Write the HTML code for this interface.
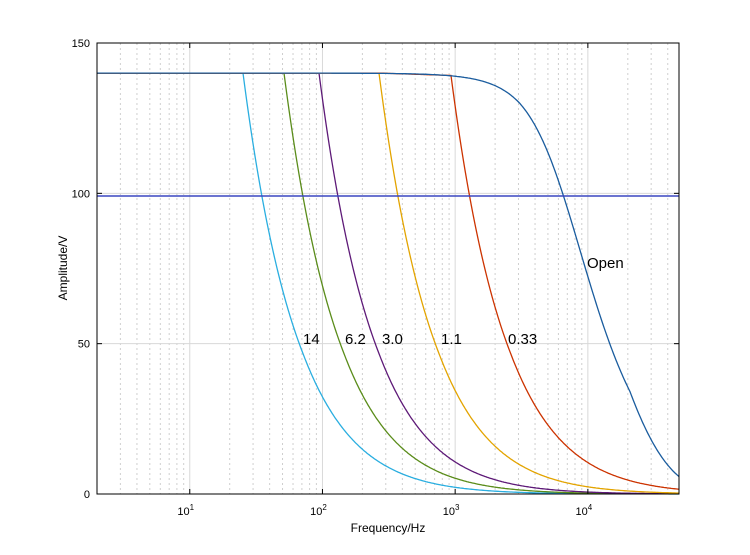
<!DOCTYPE html><html><head><style>body{margin:0;background:#fff}svg{display:block;font-family:"Liberation Sans",sans-serif}</style></head><body>
<svg id="s" width="750" height="555" xmlns="http://www.w3.org/2000/svg"></svg>
<script>
const s=document.getElementById('s');let h='';
const X0=97,X1=679,Y0=43,Y1=494,D=132.7;
const fx=f=>X0+(Math.log10(f)-0.301)*D;
const vy=v=>Y1-v*(Y1-Y0)/150;
for(let e=0;e<5;e++)for(let m=1;m<10;m++){const f=m*Math.pow(10,e);const x=fx(f);if(x<=X0+0.5||x>=X1)continue;
 if(m==1)h+=`<line x1="${x}" y1="${Y0}" x2="${x}" y2="${Y1}" stroke="#d8d8d8" stroke-width="1"/>`;
 else h+=`<line x1="${x}" y1="${Y0}" x2="${x}" y2="${Y1}" stroke="#cfcfcf" stroke-width="1" stroke-dasharray="2,3"/>`;}
for(const v of [50,100])h+=`<line x1="${X0}" y1="${vy(v)}" x2="${X1}" y2="${vy(v)}" stroke="#d8d8d8"/>`;
function A(dx){if(dx<=0)return 140;let k=0.0183+Math.max(0,dx-60)*0.000008;return 140*Math.exp(-k*dx);}
const cs=[[243,'#2aaee0',140],[284,'#5a8c1a',140],[319,'#5e1a78',140],[379,'#e3a400',140],[451,'#cc3300',139.2]];
for(const [xb,c,top] of cs){let p='';for(let x=X0;x<=X1;x+=1){let v=x<xb?(x<379?140:140-(x-379)/(451-379)*0.8):A(x-xb)*top/140;p+=(p?'L':'M')+x+','+vy(v).toFixed(1);}h+=`<path d="${p}" fill="none" stroke="${c}" stroke-width="1.3"/>`;}
let p='';for(let x=X0;x<=X1;x++){const sc=24+Math.max(0,520-x)*0.03-Math.max(0,x-630)*0.12;const z=(x-563.6)/sc;const v=140/Math.sqrt(1+Math.exp(z));p+=(p?'L':'M')+x+','+vy(v).toFixed(1);}
h+=`<path d="${p}" fill="none" stroke="#1a5c9e" stroke-width="1.3"/>`;
h+=`<line x1="${X0}" y1="196" x2="${X1}" y2="196" stroke="#3a46c0" stroke-width="1.6"/>`;
h+=`<rect x="${X0}" y="${Y0}" width="${X1-X0}" height="${Y1-Y0}" fill="none" stroke="#000" stroke-width="1"/>`;
for(const v of [0,50,100,150]){h+=`<text x="90" y="${vy(v)+4}" font-size="11" text-anchor="end">${v}</text>`;h+=`<line x1="${X0}" y1="${vy(v)}" x2="${X0+5}" y2="${vy(v)}" stroke="#000"/><line x1="${X1}" y1="${vy(v)}" x2="${X1-5}" y2="${vy(v)}" stroke="#000"/>`;}
for(let e=1;e<5;e++){const x=fx(Math.pow(10,e));h+=`<text x="${x-4}" y="515" font-size="11" text-anchor="middle">10<tspan font-size="8" dy="-5">${e}</tspan></text>`;h+=`<line x1="${x}" y1="${Y1}" x2="${x}" y2="${Y1-5}" stroke="#000"/><line x1="${x}" y1="${Y0}" x2="${x}" y2="${Y0+5}" stroke="#000"/>`;}
h+=`<text x="388" y="532" font-size="12" text-anchor="middle">Frequency/Hz</text>`;
h+=`<text transform="translate(67,268) rotate(-90)" font-size="12" text-anchor="middle">Amplitude/V</text>`;
for(const [t,x,y] of [['Open',587,268],['14',303,344],['6.2',345,344],['3.0',382,344],['1.1',441,344],['0.33',508,344]])h+=`<text x="${x}" y="${y}" font-size="15">${t}</text>`;
s.innerHTML=h;
</script></body></html>
